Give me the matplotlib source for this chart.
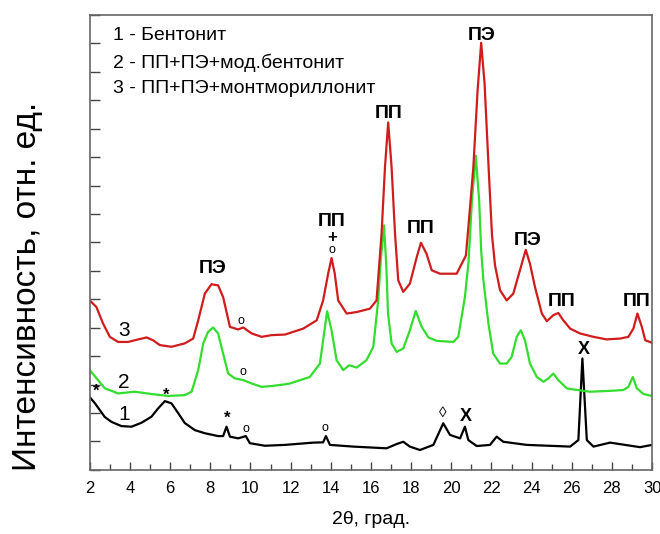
import matplotlib
matplotlib.use('Agg')
import matplotlib.pyplot as plt
from matplotlib.ticker import MultipleLocator

plt.rcParams['font.family'] = ['Liberation Sans', 'DejaVu Sans']

# 1 - bentonite
x1 = [2.0, 2.25, 2.75, 3.08, 3.58, 4.08, 4.58, 5.07, 5.40, 5.74, 6.07, 6.40, 6.73,
      7.23, 7.73, 8.39, 8.64, 8.81, 8.98, 9.39, 9.77, 9.97, 10.72, 11.72, 13.13,
      13.62, 13.76, 13.96, 15.12, 16.78, 17.28, 17.61, 17.94, 18.44, 19.11, 19.60,
      19.94, 20.44, 20.68, 20.85, 21.27, 21.93, 22.26, 22.59, 23.76, 25.92, 26.33,
      26.53, 26.75, 27.08, 27.91, 29.40, 30.0]
y1 = [2.56, 2.35, 1.86, 1.69, 1.54, 1.52, 1.66, 1.87, 2.16, 2.42, 2.34, 2.00, 1.65,
      1.40, 1.29, 1.19, 1.19, 1.52, 1.17, 1.11, 1.19, 0.94, 0.85, 0.88, 0.96,
      0.97, 1.19, 0.88, 0.82, 0.76, 0.91, 0.99, 0.82, 0.70, 0.88, 1.64,
      1.23, 1.11, 1.52, 1.05, 0.84, 0.88, 1.17, 0.99, 0.88, 0.82, 1.05,
      3.92, 1.05, 0.82, 0.96, 0.80, 0.88]

# 2 - PP+PE+mod. bentonite
x2 = [2.0, 2.41, 2.75, 3.41, 4.24, 5.07, 5.90, 6.73, 7.07, 7.40, 7.65, 7.89, 8.14,
      8.39, 8.64, 8.89, 9.22, 9.64, 10.06, 10.56, 11.05, 11.72, 11.97, 12.96, 13.46,
      13.62, 13.82, 14.04, 14.29, 14.62, 14.92, 15.29, 15.78, 16.12, 16.36, 16.49,
      16.65, 16.77, 16.85, 17.03, 17.28, 17.61, 17.94, 18.23, 18.53, 18.86, 19.27,
      20.10, 20.35, 20.68, 20.86, 21.03, 21.22, 21.39, 21.49, 21.60, 21.85, 22.09,
      22.43, 22.76, 23.01, 23.26, 23.46, 23.67, 23.92, 24.26, 24.59, 24.84, 25.08,
      25.33, 25.75, 26.08, 26.91, 27.91, 28.57, 28.82, 29.04, 29.24, 29.57, 30.0]
y2 = [3.51, 3.16, 2.87, 2.69, 2.75, 2.67, 2.60, 2.63, 2.75, 3.51, 4.45, 4.85, 5.01,
      4.80, 4.09, 3.39, 3.22, 3.16, 3.04, 2.92, 2.95, 3.01, 3.04, 3.27, 3.74,
      4.56, 5.58, 4.91, 3.86, 3.51, 3.68, 3.60, 3.86, 4.33, 5.96, 7.37,
      8.60, 7.13, 5.51, 4.45, 4.15, 4.27, 4.91, 5.59, 5.03, 4.66, 4.54,
      4.50, 4.68, 6.08, 7.30, 9.47, 11.05, 9.47, 7.72, 6.67, 5.15, 4.09,
      3.74, 3.74, 3.98, 4.68, 4.91, 4.56, 3.74, 3.27, 3.10, 3.22, 3.39,
      3.16, 2.87, 2.83, 2.75, 2.78, 2.81, 2.92, 3.27, 2.87, 2.67, 2.60]

# 3 - PP+PE+montmorillonite
x3 = [2.0, 2.33, 2.66, 3.00, 3.41, 3.91, 4.24, 4.83, 5.15, 5.49, 6.07, 6.73, 7.15,
      7.40, 7.73, 8.06, 8.39, 8.64, 8.98, 9.39, 9.64, 10.06, 10.56, 11.05, 11.72,
      12.63, 13.30, 13.62, 13.87, 14.04, 14.20, 14.37, 14.79, 15.28, 15.95, 16.28,
      16.53, 16.70, 16.86, 17.03, 17.20, 17.36, 17.61, 17.94, 18.28, 18.49, 18.77,
      19.03, 19.44, 20.27, 20.52, 20.73, 20.88, 21.10, 21.31, 21.49, 21.66, 21.86,
      22.03, 22.18, 22.43, 22.76, 23.09, 23.42, 23.71, 23.92, 24.17, 24.51, 24.76,
      25.08, 25.33, 25.58, 25.92, 26.41, 27.08, 27.74, 28.41, 28.82, 29.07, 29.27,
      29.49, 29.66, 30.0]
y3 = [5.96, 5.73, 5.15, 4.68, 4.50, 4.50, 4.56, 4.66, 4.56, 4.39, 4.33, 4.45, 4.62,
      5.26, 6.20, 6.53, 6.49, 6.08, 5.03, 4.94, 5.01, 4.80, 4.68, 4.74, 4.76,
      4.97, 5.26, 5.96, 6.90, 7.45, 6.90, 5.96, 5.50, 5.55, 5.67, 5.96,
      8.31, 10.64, 12.22, 10.64, 8.31, 6.67, 6.26, 6.55, 7.48, 7.99, 7.60,
      7.02, 6.90, 6.90, 7.25, 7.54, 8.77, 10.64, 13.33, 15.02, 13.58, 10.63,
      8.25, 7.19, 6.32, 5.96, 6.20, 7.02, 7.74, 7.25, 6.43, 5.50, 5.23,
      5.44, 5.52, 5.26, 4.97, 4.80, 4.68, 4.59, 4.62, 4.68, 4.97, 5.50,
      5.03, 4.56, 4.47]

legend_lines = ['1 - Бентонит', '2 - ПП+ПЭ+мод.бентонит', '3 - ПП+ПЭ+монтмориллонит']
legend_y = [15.26, 14.32, 13.40]

# phase labels above peaks: (text, x, y)
peak_labels = [('ПЭ', 8.13, 7.09), ('ПП', 14.06, 8.74), ('ПП', 16.9, 12.53),
               ('ПП', 18.49, 8.49), ('ПЭ', 21.53, 15.26), ('ПЭ', 23.82, 8.07),
               ('ПП', 25.52, 5.93), ('ПП', 29.25, 5.93)]
# small reflex marks
marks = [('*', 2.3, 2.75), ('*', 5.79, 2.62), ('*', 8.83, 1.82), ('o', 9.77, 1.44),
         ('o', 13.71, 1.47), ('◊', 19.59, 2.0), ('X', 20.73, 1.89), ('X', 26.61, 4.25),
         ('o', 9.52, 5.23), ('o', 9.62, 3.44), ('+', 14.06, 8.18), ('o', 14.06, 7.72)]
curve_nums = [('1', 3.69, 1.96), ('2', 3.69, 3.09), ('3', 3.69, 4.91)]

fig = plt.figure(figsize=(6.6, 5.34), dpi=100)
ax = fig.add_axes([0.136, 0.12, 0.852, 0.852])

ax.plot(x1, y1, color='black', lw=1.6)
ax.plot(x2, y2, color='#33dd2e', lw=1.6)
ax.plot(x3, y3, color='#d01c1c', lw=1.6)

ax.set_xlim(2, 30)
ax.set_ylim(0, 16)
ax.xaxis.set_major_locator(MultipleLocator(2))
ax.xaxis.set_minor_locator(MultipleLocator(1))
ax.yaxis.set_major_locator(MultipleLocator(1))
ax.set_yticklabels([])
ax.tick_params(axis='both', which='major', direction='in', length=6, width=1, labelsize=12,
               color='#444444')
ax.tick_params(axis='x', which='major', pad=8)
ax.tick_params(axis='x', which='minor', direction='in', length=4, width=1, color='#444444')
ax.tick_params(axis='y', which='major', length=7)
for s in ax.spines.values():
    s.set_color('#666666')
    s.set_linewidth(1.2)

ax.set_xlabel('2θ, град.', fontsize=14)
ax.xaxis.set_label_coords(0.5, -0.09)
ax.set_ylabel('Интенсивность, отн. ед.', fontsize=24)
ax.yaxis.set_label_coords(-0.083, 0.404)

for t, y in zip(legend_lines, legend_y):
    ax.text(3.15, y, t, fontsize=14, va='center', ha='left')

for t, x, y in peak_labels:
    ax.text(x, y, t, fontsize=14, fontweight='bold', ha='center', va='center')
for t, x, y in marks:
    w = 'bold' if t in ('*', 'X', '+') else 'normal'
    fs = {'o': 9, 'X': 13, '*': 12, '+': 12}.get(t, 11)
    ax.text(x, y, t, fontsize=fs, fontweight=w, ha='center', va='center')
for t, x, y in curve_nums:
    ax.text(x, y, t, fontsize=15, ha='center', va='center')

fig.savefig('out.png', dpi=100)
